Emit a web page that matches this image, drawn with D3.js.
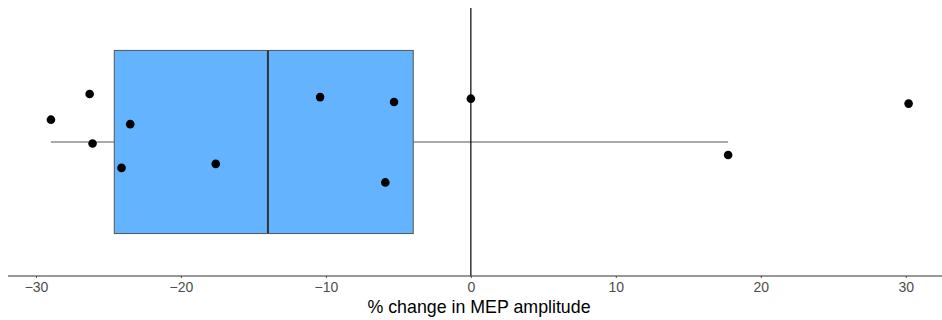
<!DOCTYPE html>
<html>
<head>
<meta charset="utf-8">
<script src="https://cdn.jsdelivr.net/npm/d3@7"></script>
<style>
  body { margin: 0; background: #fff; }
  svg { display: block; font-family: "Liberation Sans", Arial, sans-serif; }
</style>
</head>
<body>
<svg id="chart" width="942" height="320"></svg>
<script>
'use strict';

// % change in MEP amplitude, one per subject
var changes = [-28.97, -26.3, -26.1, -23.5, -24.1, -17.6, -10.4, -5.3, -5.9, 0, 17.75, 30.2];
// vertical jitter of each point (category units, centre = 1)
var jitter = [0.100, 0.215, -0.007, 0.080, -0.116, -0.098, 0.201, 0.179, -0.181, 0.194, -0.058, 0.172];
var xTicks = [-30, -20, -10, 0, 10, 20, 30];
var xTitle = '% change in MEP amplitude';

var svg = d3.select('#chart');
var x = d3.scaleLinear().domain([-30, 30]).range([36, 905.7]);
var y = d3.scaleLinear().domain([0.4, 1.6]).range([276, 8]);
var boxHalf = 0.41;

// box stats (type 7 quantiles, like R)
var sorted = changes.slice().sort(d3.ascending);
var q1 = d3.quantile(sorted, 0.25);
var med = d3.quantile(sorted, 0.5);
var q3 = d3.quantile(sorted, 0.75);
var iqr = q3 - q1;
var loW = d3.min(sorted.filter(function(d) { return d >= q1 - 1.5 * iqr; }));
var hiW = d3.max(sorted.filter(function(d) { return d <= q3 + 1.5 * iqr; }));

// whiskers
svg.append('line')
    .attr('x1', x(loW)).attr('x2', x(q1))
    .attr('y1', y(1)).attr('y2', y(1))
    .style('stroke', '#555').style('stroke-width', 1);
svg.append('line')
    .attr('x1', x(q3)).attr('x2', x(hiW))
    .attr('y1', y(1)).attr('y2', y(1))
    .style('stroke', '#555').style('stroke-width', 1);

// box
svg.append('rect')
    .attr('x', x(q1)).attr('y', y(1 + boxHalf))
    .attr('width', x(q3) - x(q1))
    .attr('height', y(1 - boxHalf) - y(1 + boxHalf))
    .style('fill', '#63b3ff')
    .style('stroke', '#555').style('stroke-width', 1);
svg.append('line')
    .attr('x1', x(med)).attr('x2', x(med))
    .attr('y1', y(1 + boxHalf)).attr('y2', y(1 - boxHalf))
    .style('stroke', '#333').style('stroke-width', 2);

// zero line
svg.append('line')
    .attr('x1', x(0)).attr('x2', x(0))
    .attr('y1', y(1.6)).attr('y2', y(0.4))
    .style('stroke', '#000').style('stroke-width', 1.2);

// points
svg.selectAll('circle.pt').data(changes)
    .enter()
    .append('circle')
    .attr('class', 'pt')
    .attr('cx', function(d) { return x(d); })
    .attr('cy', function(d, i) { return y(1 + jitter[i]); })
    .attr('r', 4.3)
    .style('fill', '#000');

// x axis
var axis = svg.append('g')
    .attr('transform', 'translate(0,' + y(0.4) + ')')
    .call(d3.axisBottom(x).tickValues(xTicks).tickSize(2).tickPadding(4)
        .tickFormat(function(d) { return d < 0 ? '\u2212' + Math.abs(d) : d; }));
axis.select('.domain').remove();
axis.append('line')
    .attr('x1', 8).attr('x2', 942)
    .style('stroke', '#333').style('stroke-width', 1.2);
axis.selectAll('.tick line').style('stroke', '#555');
axis.selectAll('.tick text')
    .style('fill', '#4d4d4d')
    .style('font-size', '14px');

svg.append('text')
    .attr('x', 479).attr('y', 312.5)
    .attr('text-anchor', 'middle')
    .style('font-size', '17.8px')
    .style('fill', '#000')
    .text(xTitle);
</script>
</body>
</html>
